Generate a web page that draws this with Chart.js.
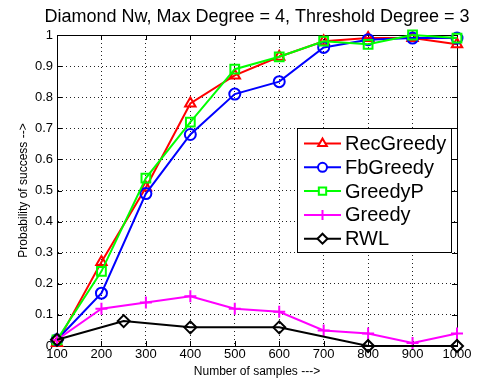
<!DOCTYPE html>
<html>
<head>
<meta charset="utf-8">
<script src="https://cdn.jsdelivr.net/npm/chart.js@4/dist/chart.umd.min.js"></script>
<style>
  html, body { margin: 0; padding: 0; background: #fff; }
  #wrap { width: 504px; height: 379px; }
</style>
</head>
<body>
<div id="wrap"><canvas id="chart" width="504" height="379"></canvas></div>
<script>
// data
const samples = [100, 200, 300, 400, 500, 600, 700, 800, 900, 1000];
const recGreedy = [0.01, 0.27, 0.51, 0.78, 0.87, 0.93, 0.98, 0.99, 0.99, 0.97];
const fbGreedy  = [0.02, 0.17, 0.49, 0.68, 0.81, 0.85, 0.96, 0.985, 0.99, 0.99];
const greedyP   = [0.02, 0.24, 0.54, 0.72, 0.89, 0.93, 0.98, 0.97, 1.0, 0.99];
const greedy    = [0.02, 0.12, 0.14, 0.16, 0.12, 0.11, 0.05, 0.04, 0.01, 0.04];
const rwlSamples = [100, 250, 400, 600, 800, 1000];
const rwl        = [0.02, 0.08, 0.06, 0.06, 0.0, 0.0];

const seriesNames = ['RecGreedy', 'FbGreedy', 'GreedyP', 'Greedy', 'RWL'];
const seriesColors = ['#ff0000', '#0000ff', '#00ff00', '#ff00ff', '#000000'];
const xTicksMin = 100, xTicksMax = 1000;
const chartTitle = 'Diamond Nw, Max Degree = 4, Threshold Degree = 3';

const FONT = "'Liberation Sans', Arial, Helvetica, sans-serif";

function toPoints(xs, ys) {
    return xs.map((x, i) => ({ x: x, y: ys[i] }));
}

function makeSet(idx, points, style, radius) {
    return {
        label: seriesNames[idx],
        data: points,
        borderColor: seriesColors[idx],
        backgroundColor: seriesColors[idx],
        borderWidth: 2,
        pointStyle: style,
        pointRadius: radius,
        pointBorderWidth: 2,
        pointBorderColor: seriesColors[idx],
        pointBackgroundColor: 'rgba(0,0,0,0)',
        tension: 0,
        clip: false,
        order: 5 - idx
    };
}

// axes box, inward tick marks and title centred over the axes (matlab style)
const boxPlugin = {
    id: 'boxPlugin',
    beforeDatasetsDraw(chart) {
        const { ctx, chartArea: a, scales } = chart;
        ctx.save();
        ctx.strokeStyle = '#000';
        ctx.lineWidth = 1;
        ctx.beginPath();
        scales.x.ticks.forEach(t => {
            const px = Math.round(scales.x.getPixelForValue(t.value)) + 0.5;
            ctx.moveTo(px, a.bottom); ctx.lineTo(px, a.bottom - 5);
            ctx.moveTo(px, a.top); ctx.lineTo(px, a.top + 5);
        });
        scales.y.ticks.forEach(t => {
            const py = Math.round(scales.y.getPixelForValue(t.value)) + 0.5;
            ctx.moveTo(a.left, py); ctx.lineTo(a.left + 5, py);
            ctx.moveTo(a.right, py); ctx.lineTo(a.right - 5, py);
        });
        ctx.stroke();
        ctx.strokeRect(Math.round(a.left) + 0.5, Math.round(a.top) + 0.5,
            Math.round(a.right - a.left), Math.round(a.bottom - a.top));

        ctx.fillStyle = '#000';
        ctx.font = '18px ' + FONT;
        ctx.textAlign = 'center';
        ctx.textBaseline = 'middle';
        ctx.fillText(chartTitle, (a.left + a.right) / 2, 17.5);
        ctx.restore();
    }
};

// legend with line + marker samples, boxed
const legendBox = {
    id: 'legendBox',
    afterDraw(chart) {
        const ctx = chart.ctx;
        const x0 = 297, y0 = 128, w = 154, h = 124;
        const rowH = 23.8;
        ctx.save();
        ctx.fillStyle = '#fff';
        ctx.fillRect(x0, y0, w, h);
        ctx.strokeStyle = '#000';
        ctx.lineWidth = 1;
        ctx.strokeRect(x0 + 0.5, y0 + 0.5, w, h);
        ctx.font = '20px ' + FONT;
        ctx.textBaseline = 'middle';
        chart.data.datasets.forEach((ds, i) => {
            const cy = y0 + 15.5 + i * rowH;
            ctx.strokeStyle = ds.borderColor;
            ctx.lineWidth = 2;
            ctx.beginPath();
            ctx.moveTo(304, cy);
            ctx.lineTo(341, cy);
            ctx.stroke();
            ctx.fillStyle = '#fff';
            Chart.helpers.drawPoint(ctx, {
                pointStyle: ds.pointStyle,
                radius: ds.pointRadius - 1,
                borderWidth: 2,
                rotation: 0
            }, 322.5, cy);
            ctx.fillStyle = '#000';
            ctx.fillText(ds.label, 345, cy + 1);
        });
        ctx.restore();
    }
};

const ctx = document.getElementById('chart').getContext('2d');
new Chart(ctx, {
    type: 'line',
    data: {
        datasets: [
            makeSet(0, toPoints(samples, recGreedy), 'triangle', 6),
            makeSet(1, toPoints(samples, fbGreedy), 'circle', 5.5),
            makeSet(2, toPoints(samples, greedyP), 'rect', 6.2),
            makeSet(3, toPoints(samples, greedy), 'cross', 6),
            makeSet(4, toPoints(rwlSamples, rwl), 'rectRot', 6)
        ]
    },
    options: {
        responsive: false,
        animation: false,
        layout: { padding: { left: 0, right: 47, top: 35, bottom: 0 } },
        plugins: {
            legend: { display: false },
            tooltip: { enabled: false },
            title: { display: false }
        },
        scales: {
            x: {
                type: 'linear',
                min: xTicksMin,
                max: xTicksMax,
                afterFit(scale) { scale.height = 33; },
                ticks: {
                    stepSize: 100,
                    color: '#000',
                    padding: 1,
                    maxRotation: 0,
                    font: { family: FONT, size: 13 },
                    callback: v => String(v)
                },
                grid: { color: '#222', drawTicks: false, tickLength: 0 },
                border: { display: true, color: '#000', dash: [1, 3] },
                title: {
                    display: true,
                    text: 'Number of samples --->',
                    color: '#000',
                    font: { family: FONT, size: 12 },
                    padding: { top: 0, bottom: 0 }
                }
            },
            y: {
                min: 0,
                max: 1,
                afterFit(scale) { scale.width = 57; },
                ticks: {
                    stepSize: 0.1,
                    color: '#000',
                    padding: 4,
                    font: { family: FONT, size: 13 },
                    callback: v => String(Math.round(v * 10) / 10)
                },
                grid: { color: '#222', drawTicks: false, tickLength: 0 },
                border: { display: true, color: '#000', dash: [1, 3] },
                title: {
                    display: true,
                    text: 'Probability of success -->',
                    color: '#000',
                    font: { family: FONT, size: 12 },
                    padding: { top: 16, bottom: 0 }
                }
            }
        }
    },
    plugins: [boxPlugin, legendBox]
});
</script>
</body>
</html>
